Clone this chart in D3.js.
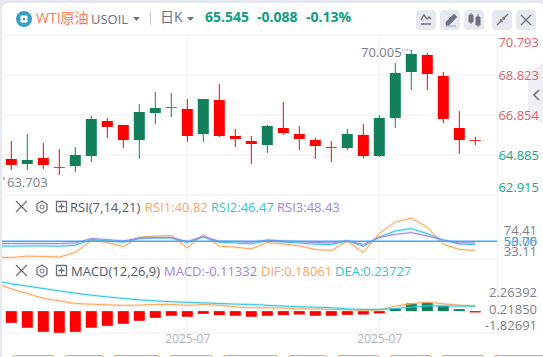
<!DOCTYPE html>
<html>
<head>
<meta charset="utf-8">
<style>
  html, body { margin: 0; padding: 0; background: #e6e9f0; overflow: hidden; }
  text { font-family: "Open Sans", "Noto Sans CJK SC", sans-serif; }
</style>
<script src="https://cdn.jsdelivr.net/npm/d3@7"></script>
</head>
<body>
<div id="chart"></div>
<script>
// candles, one per trading day
const opens = [64.688,64.442,64.737,64.294,64.343,64.836,66.559,66.362,65.623,66.952,67.213,67.149,65.919,67.592,65.82,65.574,65.377,66.214,65.919,65.623,65.279,65.229,65.87,64.836,66.706,68.971,69.808,68.774,66.214,65.623];
const closes = [64.393,64.639,64.393,64.26,64.885,66.657,66.263,65.623,67.002,67.199,67.248,65.82,67.642,65.82,65.673,65.426,66.312,65.968,65.673,65.328,65.244,65.919,64.836,66.706,68.921,69.857,68.872,66.657,65.623,65.589];
const highs = [65.574,65.919,65.476,65.18,65.279,66.805,66.706,66.362,67.395,67.986,67.937,67.642,67.642,68.38,66.165,65.82,66.362,67.494,66.312,65.722,65.574,66.165,66.411,66.854,69.414,70.054,69.906,68.971,67.051,65.771];
const lows = [64.147,64.147,64.196,63.9,64.048,64.54,65.722,65.229,64.688,66.411,66.756,65.525,65.525,65.771,65.279,64.442,64.983,65.87,65.131,64.688,64.54,65.131,64.737,64.786,66.214,68.085,68.085,66.46,64.934,65.377];
const priceTicks = [70.793,68.823,66.854,64.885,62.915];

// indicator series start one day before the first candle (clipped off on the left)
const rsi1 = [33.7,33.7,35,34.7,34,38.7,51,48.7,44.7,54,55.3,55.7,43.3,56.7,45,44,42.3,48.7,47.3,45.3,41.7,40.7,49.7,38.7,57.7,69.3,73.3,64,47,41.7,40.82];
const rsi2 = [45.3,45,45.3,45.3,45,46,51.7,50.3,49,52.7,53.3,53.3,48.7,54.3,49,48.3,47.3,50.7,49.3,48.3,47,46.7,50.3,45,54.3,60.3,62.7,57.7,51,47.3,46.47];
const rsi3 = [47.7,47.7,47.7,47.7,47.7,48.3,52.7,51.7,50.3,53.3,53.7,53.7,49.7,54.7,50,49.7,49,51.3,50.3,49.7,48.7,48.3,50.7,46.7,53.7,57,58.7,55.3,51.3,48.3,48.43];
const rsiTicks = ["74.41","53.76","33.11"];
const dif = [2.35,1.86,1.48,1.08,0.86,0.64,0.58,0.53,0.48,0.5,0.56,0.56,0.48,0.56,0.48,0.36,0.28,0.28,0.25,0.19,0.17,0.14,0.11,0.06,0.11,0.42,0.61,0.73,0.61,0.5,0.42];
const dea = [2.53,2.28,2.08,1.89,1.69,1.5,1.33,1.19,1.06,0.94,0.86,0.78,0.73,0.69,0.64,0.58,0.56,0.48,0.42,0.36,0.33,0.28,0.19,0.14,0.14,0.22,0.33,0.44,0.44,0.42,0.42];
const hist = [-0.98,-1.39,-1.73,-1.81,-1.73,-1.39,-1.23,-1.06,-0.81,-0.56,-0.39,-0.47,-0.23,-0.33,-0.39,-0.47,-0.39,-0.33,-0.28,-0.39,-0.39,-0.31,-0.28,-0.19,0.19,0.64,0.69,0.42,0.17,-0.11];
const macdTicks = ["2.26392","0.21850","-1.82691"];
const dateTickIndex = [11,23];
const dateTickLabels = ["2025-07","2025-07"];

const width = 543, height = 357;
const up = "#12805c", down = "#ff0000";
const gridColor = "#f4f5f8", gray = "#6e7180", axisGray = "#7c7f8d";
const orange = "#ffa559", cyan = "#2ec7e0", purple = "#a284e8";

const svg = d3.select("#chart").append("svg")
  .attr("width", width).attr("height", height)
  .style("display", "block");

// card background
svg.append("rect").attr("x", 2).attr("y", 3).attr("width", width).attr("height", height)
  .attr("rx", 6).attr("fill", "#fff");

svg.append("clipPath").attr("id", "plot").append("rect")
  .attr("x", 2).attr("y", 30).attr("width", 495).attr("height", 305);

const x = d3.scaleLinear().domain([0, 29]).range([11.3, 475.3]);
const yPrice = d3.scaleLinear().domain([62.915, 70.793]).range([195, 35]);
const yRsi = d3.scaleLinear().domain([33.11, 74.41]).range([258, 217]);
const yMacd = d3.scaleLinear().domain([-1.82691, 2.26392]).range([333, 284]);

// grid
const grid = svg.append("g").attr("stroke", gridColor).attr("stroke-width", 1.5);
[35, 75, 115, 155, 195, 259, 333].forEach(y => {
  grid.append("line").attr("x1", 3).attr("x2", 497).attr("y1", y).attr("y2", y);
});
dateTickIndex.forEach(i => {
  grid.append("line").attr("x1", x(i)).attr("x2", x(i)).attr("y1", 35).attr("y2", 333);
});
grid.append("line").attr("x1", 497.5).attr("x2", 497.5).attr("y1", 35).attr("y2", 333);

// candles
const candles = svg.append("g").attr("clip-path", "url(#plot)")
  .selectAll("g").data(opens).join("g")
  .attr("fill", (d, i) => closes[i] >= d ? up : down)
  .attr("stroke", (d, i) => closes[i] >= d ? up : down);
candles.append("line")
  .attr("x1", (d, i) => x(i)).attr("x2", (d, i) => x(i))
  .attr("y1", (d, i) => yPrice(highs[i])).attr("y2", (d, i) => yPrice(lows[i]))
  .attr("stroke-width", 1);
candles.append("rect")
  .attr("x", (d, i) => x(i) - 5.5).attr("width", 11)
  .attr("y", (d, i) => yPrice(Math.max(d, closes[i])))
  .attr("height", (d, i) => Math.max(0.8, Math.abs(yPrice(d) - yPrice(closes[i]))))
  .attr("stroke", "none");

// high / low notes
svg.append("text").attr("x", 361).attr("y", 57).attr("font-size", 13).attr("fill", axisGray).text("70.005");
svg.append("line").attr("x1", 402).attr("x2", 412).attr("y1", yPrice(70.054)).attr("y2", yPrice(70.054))
  .attr("stroke", axisGray).attr("stroke-dasharray", "1 1.5");
svg.append("text").attr("x", 7).attr("y", 187).attr("font-size", 13).attr("fill", axisGray).text("63.703");
svg.append("line").attr("x1", 4).attr("x2", 4).attr("y1", 177).attr("y2", 180).attr("stroke", axisGray);

// side tab, under the price labels
svg.append("path").attr("d", "M543,63L528,75V113L543,125Z").attr("fill", "#eef0f5");
svg.append("path").attr("d", "M539,90L534,95L539,100").attr("fill", "none").attr("stroke", gray).attr("stroke-width", 1.6);

// price axis labels stay inside the pane
svg.append("g").selectAll("text").data(priceTicks).join("text")
  .attr("x", 539).attr("text-anchor", "end").attr("font-size", 13)
  .attr("y", d => Math.min(187, Math.max(42, yPrice(d) + 0.7)) + 4.5)
  .attr("fill", d => d > 65.545 ? "#e2616a" : "#12a88a")
  .text(d => d.toFixed(3));

// RSI pane
const lineIdx = d => d3.line().x((v, i) => x(i - 1)).y(v => d(v));
const rsiLine = lineIdx(yRsi);
const rsiG = svg.append("g").attr("clip-path", "url(#plot)").attr("fill", "none");
[[rsi1, orange], [rsi2, cyan], [rsi3, purple]].forEach(([s, c]) => {
  rsiG.append("path").attr("d", rsiLine(s)).attr("stroke", c).attr("stroke-width", 3).attr("opacity", 0.18);
  rsiG.append("path").attr("d", rsiLine(s)).attr("stroke", c).attr("stroke-width", 1);
});
rsiG.append("line").attr("x1", 2).attr("x2", 497).attr("y1", yRsi(50)).attr("y2", yRsi(50))
  .attr("stroke", "#3fa9f5").attr("stroke-width", 1.5);

const rsiLabelY = d3.scalePoint().domain(rsiTicks).range([230, 251]);
svg.append("g").selectAll("text").data(rsiTicks).join("text")
  .attr("x", 537).attr("text-anchor", "end").attr("font-size", 13).attr("fill", axisGray)
  .attr("y", d => rsiLabelY(d) + 5).text(d => d);
svg.append("text").attr("x", 537).attr("y", yRsi(50) + 5).attr("text-anchor", "end")
  .attr("font-size", 13).attr("fill", "#3fa9f5").text("50.00");

// MACD pane
const macdG = svg.append("g").attr("clip-path", "url(#plot)");
macdG.selectAll("rect").data(hist).join("rect")
  .attr("x", (d, i) => x(i) - 5.5).attr("width", 11)
  .attr("y", d => Math.min(yMacd(d), yMacd(0)))
  .attr("height", d => Math.abs(yMacd(d) - yMacd(0)))
  .attr("fill", d => d >= 0 ? up : down);
const macdLine = lineIdx(yMacd).curve(d3.curveMonotoneX);
[[dif, orange], [dea, cyan]].forEach(([s, c]) => {
  macdG.append("path").attr("d", macdLine(s)).attr("fill", "none").attr("stroke", c).attr("stroke-width", 3).attr("opacity", 0.18);
  macdG.append("path").attr("d", macdLine(s)).attr("fill", "none").attr("stroke", c).attr("stroke-width", 1);
});
const macdLabelY = d3.scalePoint().domain(macdTicks).range([292, 325]);
svg.append("g").selectAll("text").data(macdTicks).join("text")
  .attr("x", 537).attr("text-anchor", "end").attr("font-size", 13).attr("fill", axisGray)
  .attr("y", d => macdLabelY(d) + 5).text(d => d);

// date axis
const xAxis = d3.axisBottom(x).tickValues(dateTickIndex).tickSize(0)
  .tickFormat((d, i) => dateTickLabels[i]);
const xAxisG = svg.append("g").attr("transform", "translate(0,333)").call(xAxis);
xAxisG.select(".domain").remove();
xAxisG.selectAll("text").attr("font-size", 12).attr("fill", "#b0b3c4").attr("dy", "0.6em")
  .style("font-family", '"Open Sans", sans-serif');

// bottom buttons, cut by the window
[[12.5,54],[64.4,104],[114,160],[170,212.6],[223,277.7],[288,327.6],[338,379.5],[390,432],[442,484],[494,560]].forEach(b => {
  svg.append("rect").attr("x", b[0]).attr("y", 355.5).attr("width", b[1] - b[0]).attr("height", 20)
    .attr("rx", 3).attr("fill", "#fff").attr("stroke", "#e0a83c");
});

// header
svg.append("circle").attr("cx", 24).attr("cy", 19).attr("r", 8).attr("fill", "#3a9fc8");
svg.append("rect").attr("x", 20.5).attr("y", 15.5).attr("width", 7).attr("height", 7).attr("rx", 1).attr("fill", "#fff");
svg.append("rect").attr("x", 23).attr("y", 18).attr("width", 2).attr("height", 2).attr("fill", "#3a9fc8");
const label = (xp, yp, t, c, size, weight) => svg.append("text").attr("x", xp).attr("y", yp)
  .attr("font-size", size).attr("fill", c).attr("font-weight", weight || 400).text(t);
label(36, 23, "WTI原油", "#ff7a55", 14);
label(91, 24, "USOIL", gray, 13);
label(160, 22, "日K", gray, 14);
label(205, 22, "65.545", "#0f9d80", 14, 700);
label(257, 22, "-0.088", "#0f9d80", 14, 700);
label(306, 22, "-0.13%", "#0f9d80", 14, 700);
svg.append("path").attr("d", "M133,17H140L136.5,21Z M187,17H194L190.5,21Z").attr("fill", gray);
svg.append("line").attr("x1", 150.5).attr("x2", 150.5).attr("y1", 12).attr("y2", 25).attr("stroke", "#c9ccd6");

// toolbar buttons
[416, 440, 464, 492, 516].forEach(bx => {
  svg.append("rect").attr("x", bx).attr("y", 10).attr("width", 20).attr("height", 20).attr("rx", 4).attr("fill", "#e6e9f0");
});
const icon = d => svg.append("path").attr("d", d).attr("fill", "none").attr("stroke", gray).attr("stroke-width", 1.3);
icon("M421,24H431 M421,20L424,15L427,19L429,17L431,19");
svg.append("path").attr("d", "M446,22L454,14L457,17L449,25H446Z M446,26H456").attr("fill", gray).attr("stroke", gray).attr("stroke-width", 0.6);
svg.append("path").attr("d", "M469,15H473V22H469Z M476,17H480V25H476Z M471,13V24 M478,14V27").attr("fill", gray).attr("stroke", gray);
icon("M497,25L501,21 M508,14L504,18 M500,20H502V22 M503,19H505 M503,17V19");
icon("M521,15L531,25 M531,15L521,25");

// pane legends
const paneHead = (yp, name, nameX) => {
  icon(`M16,${yp - 6}L27,${yp + 5} M27,${yp - 6}L16,${yp + 5}`);
  icon(`M42,${yp - 6}L47,${yp - 3}V${yp + 3}L42,${yp + 6}L37,${yp + 3}V${yp - 3}Z`);
  svg.append("circle").attr("cx", 42).attr("cy", yp).attr("r", 2).attr("fill", "none").attr("stroke", gray);
  icon(`M56.5,${yp - 5.5}H66.5V${yp + 4.5}H56.5Z M58.5,${yp - 0.5}H64.5 M61.5,${yp - 3.5}V${yp + 2.5}`);
  label(nameX, yp + 5, name, "#55586a", 13);
};
paneHead(207, "RSI(7,14,21)", 70);
label(145, 212, "RSI1:40.82", orange, 13);
label(211, 212, "RSI2:46.47", cyan, 13);
label(277, 212, "RSI3:48.43", purple, 13);
paneHead(271, "MACD(12,26,9)", 71);
label(164, 276, "MACD:-0.11332", purple, 13);
label(261, 276, "DIF:0.18061", orange, 13);
label(335, 276, "DEA:0.23727", cyan, 13);
</script>
</body>
</html>
